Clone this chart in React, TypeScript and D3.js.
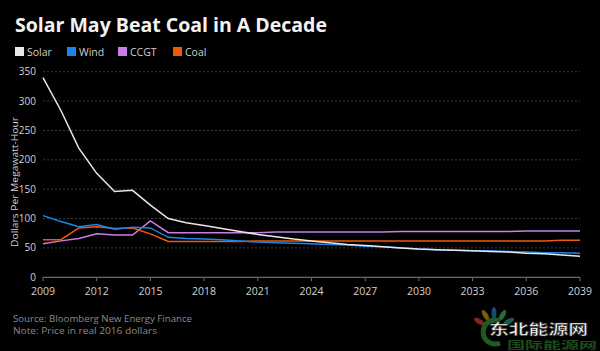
import React from "react";
import * as d3 from "d3";

const years = d3.range(2009, 2040);
const solar = [340, 284, 220, 177, 146, 148, 123, 100, 93, 88, 83, 78, 73, 69, 65, 62, 59, 56, 54, 52, 50, 48, 47, 46, 45, 44, 43, 41, 40, 38, 36];
const wind = [105, 95, 86, 90, 82, 85, 84, 68, 66, 65, 64, 62, 60, 59, 58, 57, 56, 55, 53, 52, 50, 48, 47, 46, 45, 45, 44, 43, 42, 42, 41];
const ccgt = [57, 62, 66, 74, 72, 72, 96, 76, 76, 76, 76, 76, 76, 77, 77, 77, 77, 77, 77, 77, 78, 78, 78, 78, 78, 78, 78, 79, 79, 79, 79];
const coal = [64, 64, 84, 86, 83, 84, 74, 61, 61, 61, 61, 61, 62, 62, 62, 62, 62, 62, 62, 62, 62, 62, 62, 62, 62, 62, 62, 62, 62, 63, 63];
const yTicks = [0, 50, 100, 150, 200, 250, 300, 350];
const xTicks = [2009, 2012, 2015, 2018, 2021, 2024, 2027, 2030, 2033, 2036, 2039];

const seriesList = [
  { name: "Solar", values: solar, color: "#e8e8e8" },
  { name: "Wind", values: wind, color: "#1c84ee" },
  { name: "CCGT", values: ccgt, color: "#c97fe6" },
  { name: "Coal", values: coal, color: "#f0580a" },
];
const drawOrder = ["CCGT", "Coal", "Wind", "Solar"];
const legendX = [15, 67, 118, 173];
const petals = [
  { a: -150, c: "#7a2a1a" },
  { a: -120, c: "#7a5a10" },
  { a: -90, c: "#1a4a6a" },
  { a: -60, c: "#2a6a3a" },
  { a: -30, c: "#1a5a5a" },
];

export default function App() {
  const W = 600, H = 351;
  const x = d3.scaleLinear().domain([2009, 2039]).range([43, 580]);
  const y = d3.scaleLinear().domain([0, 350]).range([277.3, 71.7]);
  const line = d3.line<number>().x((_, i) => x(years[i])).y((d) => y(d));
  const font = "'Open Sans', 'DejaVu Sans', sans-serif";
  const cjk = "'Noto Sans CJK SC', sans-serif";
  return (
    <svg width={W} height={H} style={{ position: "absolute", left: 0, top: 0, background: "#000" }}>
      <rect x={0} y={0} width={W} height={H} fill="#000" />
      <text x={15} y={32} fill="#f2f2f2" fontFamily={font} fontWeight={700} fontSize={19.5}>
        Solar May Beat Coal in A Decade
      </text>
      {seriesList.map((s, i) => (
        <g key={s.name}>
          <rect x={legendX[i]} y={47} width={9} height={9} fill={s.color} />
          <text x={legendX[i] + 12} y={55.5} fill="#cfcfcf" fontFamily={font} fontSize={10.5}>
            {s.name}
          </text>
        </g>
      ))}
      {yTicks.map((t) => (
        <g key={t}>
          {t > 0 && (
            <line x1={43} x2={580} y1={y(t)} y2={y(t)} stroke="#3a3a3a" strokeWidth={1} strokeDasharray="2,2" />
          )}
          <text x={36} y={y(t) + 3.5} textAnchor="end" fill="#d0d0d0" fontFamily={font} fontSize={10}>
            {t}
          </text>
        </g>
      ))}
      <line x1={43} x2={580} y1={y(0)} y2={y(0)} stroke="#6a6a6a" strokeWidth={1.2} />
      {xTicks.map((t) => (
        <g key={t}>
          <line x1={x(t)} x2={x(t)} y1={y(0)} y2={y(0) + 4} stroke="#6a6a6a" strokeWidth={1} />
          <text x={x(t)} y={294.5} textAnchor="middle" fill="#d0d0d0" fontFamily={font} fontSize={10.5}>
            {t}
          </text>
        </g>
      ))}
      <text
        transform={`translate(17.5, 182) rotate(-90)`}
        textAnchor="middle"
        fill="#d0d0d0"
        fontFamily={font}
        fontSize={9.5}
        textLength={130}
        lengthAdjust="spacingAndGlyphs"
      >
        Dollars Per Megawatt-Hour
      </text>
      {drawOrder.map((n) => {
        const s = seriesList.find((d) => d.name === n)!;
        return <path key={n} d={line(s.values) || ""} fill="none" stroke={s.color} strokeWidth={1.5} />;
      })}
      <text x={13} y={321.5} fill="#8a8a8a" fontFamily={font} fontSize={9.5} textLength={179} lengthAdjust="spacingAndGlyphs">
        Source: Bloomberg New Energy Finance
      </text>
      <text x={13} y={334} fill="#8a8a8a" fontFamily={font} fontSize={9.5} textLength={144} lengthAdjust="spacingAndGlyphs">
        Note: Price in real 2016 dollars
      </text>
      {petals.map((p, i) => {
        const r = (p.a * Math.PI) / 180;
        const cx = 494 + Math.cos(r) * 17;
        const cy = 330 + Math.sin(r) * 17;
        return <ellipse key={i} cx={cx} cy={cy} rx={2.5} ry={6} fill={p.c} transform={`rotate(${p.a + 90}, ${cx}, ${cy})`} />;
      })}
      <path d="M 500 321 A 12 12 0 1 0 500 343" fill="none" stroke="#1f5a22" strokeWidth={5} />
      <text x={507} y={349} fill="#1c4a1c" fontFamily={cjk} fontWeight={700} fontSize={10} textLength={90} lengthAdjust="spacingAndGlyphs">
        国际能源网
      </text>
      <text x={489} y={334} fill="#fff" stroke="#333" strokeWidth={0.6} fontFamily={cjk} fontWeight={700} fontSize={14} textLength={99} lengthAdjust="spacingAndGlyphs">
        东北能源网
      </text>
    </svg>
  );
}
